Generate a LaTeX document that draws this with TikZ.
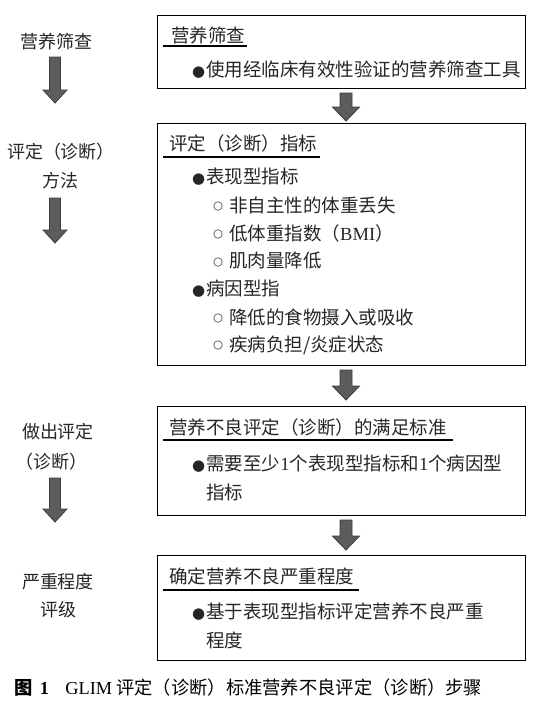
\documentclass[tikz,border=0pt]{standalone}
\usepackage{fontspec}
\setmainfont{Noto Sans CJK SC}
\newfontfamily\latinserif{Liberation Serif}
\newfontfamily\symfont{DejaVu Sans}
\usetikzlibrary{calc}
\definecolor{txt}{HTML}{262626}
\definecolor{arrfill}{HTML}{5C5C5C}
\definecolor{arrline}{HTML}{3C3C3C}
\newcommand\bdotmark{{\symfont\fontsize{15}{18}\selectfont ●}\hspace{1pt}}
\newcommand\ringmark{\raisebox{2.6pt}{\symfont\fontsize{11.5}{12}\selectfont ○}\hspace{6pt}}
\tikzset{
  boxframe/.style={draw=black, line width=1.4pt, inner sep=0pt, anchor=north west},
  txtnode/.style={inner sep=0pt, anchor=west, text=txt, font=\fontsize{18.5}{21}\selectfont},
  sidenode/.style={inner sep=0pt, anchor=center, text=txt, font=\fontsize{18}{21}\selectfont},
  capnode/.style={inner sep=0pt, anchor=west, text=black, font=\fontsize{18.3}{20}\selectfont},
  headline/.style={draw=black, line width=1.2pt},
  garrowstyle/.style={fill=arrfill, draw=arrline, line width=0.8pt, line join=miter},
}
% big down arrow: name, x centre, y top, y tip, shaft half width, head half width, head length
\newcommand\garrow[7]{%
  \coordinate (#1-top) at (#2,#3);
  \coordinate (#1-tip) at (#2,#4);
  \draw[garrowstyle] ($(#1-top)+(-#5,0)$) -- ($(#1-top)+(#5,0)$)
     -- ($(#1-tip)+(#5,-#7)$) -- ($(#1-tip)+(#6,-#7)$) -- (#1-tip)
     -- ($(#1-tip)+(-#6,-#7)$) -- ($(#1-tip)+(-#5,-#7)$) -- cycle;
}
\begin{document}
\begin{tikzpicture}[x=1pt,y=-1pt]
\useasboundingbox (0,0) rectangle (542,705);
\fill[white] (0,0) rectangle (542,705);

% ---------- box 1
\node[boxframe, minimum width=368pt, minimum height=73pt] (b1) at (157,15) {};
\node[txtnode] (h1) at (171,35) {营养筛查};
\draw[headline] (163,46) -- (247,46);
\node[txtnode] (b1l1) at (192,70) {\bdotmark 使用经临床有效性验证的营养筛查工具};

% ---------- box 2
\node[boxframe, minimum width=368pt, minimum height=242pt] (b2) at (157,123) {};
\node[txtnode] (h2) at (169,143) {评定（诊断）指标};
\draw[headline] (163,157) -- (320,157);
\node[txtnode] (b2l1) at (192,177) {\bdotmark 表现型指标};
\node[txtnode] (b2l2) at (213,205) {\ringmark 非自主性的体重丢失};
\node[txtnode] (b2l3) at (213,233) {\ringmark 低体重指数（{\latinserif BMI}）};
\node[txtnode] (b2l4) at (213,261) {\ringmark 肌肉量降低};
\node[txtnode] (b2l5) at (192,289) {\bdotmark 病因型指};
\node[txtnode] (b2l6) at (213,317) {\ringmark 降低的食物摄入或吸收};
\node[txtnode] (b2l7) at (213,345) {\ringmark 疾病负担/炎症状态};

% ---------- box 3
\node[boxframe, minimum width=368pt, minimum height=109pt] (b3) at (157,406) {};
\node[txtnode] (h3) at (169,427) {营养不良评定（诊断）的满足标准};
\draw[headline] (163,440) -- (453,440);
\node[txtnode] (b3l1) at (192,464) {\bdotmark 需要至少{\latinserif 1}个表现型指标和{\latinserif 1}个病因型};
\node[txtnode] (b3l2) at (206,492) {指标};

% ---------- box 4
\node[boxframe, minimum width=368pt, minimum height=105pt] (b4) at (157,555) {};
\node[txtnode] (h4) at (169,576) {确定营养不良严重程度};
\draw[headline] (163,590) -- (359,590);
\node[txtnode] (b4l1) at (192,612) {\bdotmark 基于表现型指标评定营养不良严重};
\node[txtnode] (b4l2) at (206,640) {程度};

% ---------- centre arrows
\garrow{a1}{346}{93}{121}{6}{13.5}{14}
\garrow{a2}{346}{370}{400}{6}{13.5}{14}
\garrow{a3}{346}{520}{550}{6}{13.5}{14}

% ---------- left column
\node[sidenode] (s1) at (56,42) {营养筛查};
\garrow{la1}{55}{57}{103}{5.5}{12}{13}
\node[sidenode] (s2a) at (61,152) {评定（诊断）};
\node[sidenode] (s2b) at (60,181) {方法};
\garrow{la2}{55}{198}{243}{5.5}{12}{13}
\node[sidenode] (s3a) at (58,432) {做出评定};
\node[sidenode] (s3b) at (52,462) {（诊断）};
\garrow{la3}{55}{478}{522}{5.5}{12}{13}
\node[sidenode] (s4a) at (58,582) {严重程度};
\node[sidenode] (s4b) at (58,610) {评级};

% ---------- caption
\node[capnode] (cap) at (14,688) {\textbf{图}\hspace{0.4em}{\latinserif\bfseries 1}\hspace{0.9em}{\latinserif GLIM} 评定（诊断）标准营养不良评定（诊断）步骤};
\end{tikzpicture}
\end{document}
